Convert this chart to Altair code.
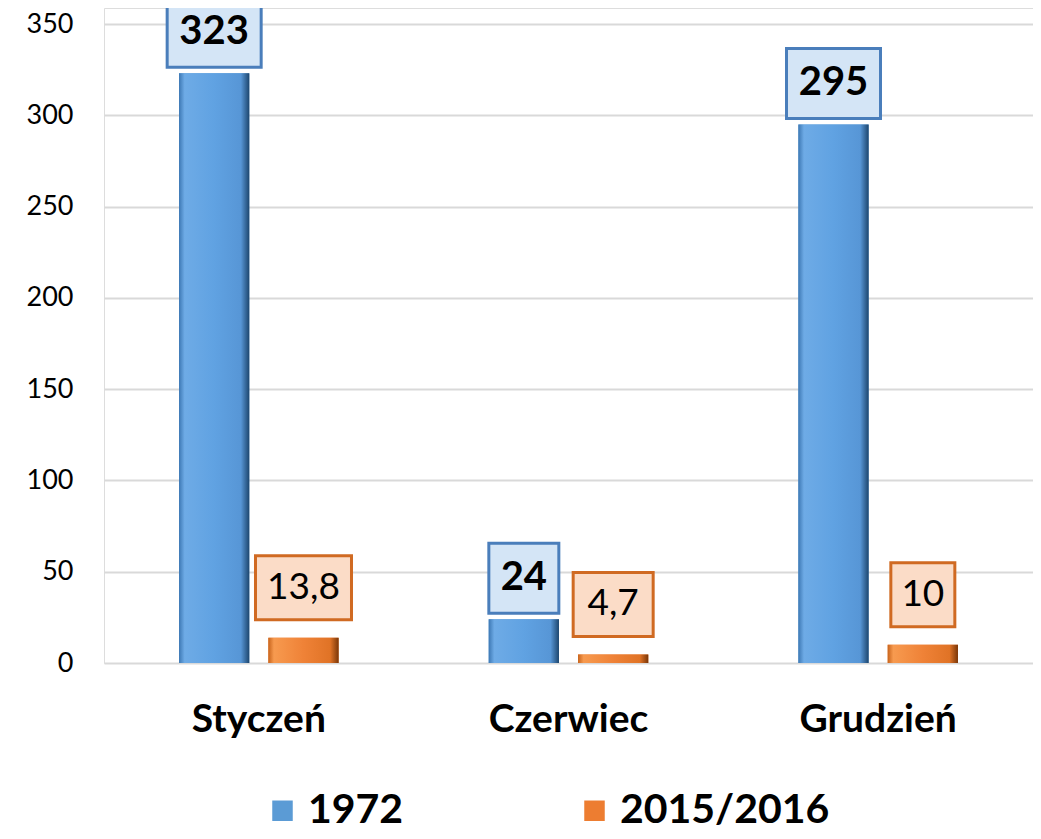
import altair as alt
import pandas as pd

categories = ["Styczeń", "Czerwiec", "Grudzień"]
series = ["1972", "2015/2016"]
values_1972 = [323, 24, 295]
values_2015 = [13.8, 4.7, 10]
labels_1972 = ["323", "24", "295"]
labels_2015 = ["13,8", "4,7", "10"]
y_ticks = [0, 50, 100, 150, 200, 250, 300, 350]

rows = []
for i, c in enumerate(categories):
    rows.append({"cat": c, "series": series[0], "value": values_1972[i], "label": labels_1972[i]})
    rows.append({"cat": c, "series": series[1], "value": values_2015[i], "label": labels_2015[i]})
df = pd.DataFrame(rows)

FONT = "Lato"

x = alt.X(
    "cat:N", sort=categories,
    scale=alt.Scale(paddingInner=0, paddingOuter=0),
    axis=alt.Axis(title=None, labelAngle=0, labelFont=FONT, labelFontWeight="bold",
                  labelFontSize=39, labelColor="black", labelPadding=37,
                  domain=False, ticks=False, tickSize=0, grid=False),
)
xo = alt.XOffset("series:N", sort=series,
                 scale=alt.Scale(domain=series, paddingInner=19 / 89, paddingOuter=0.84))
y = alt.Y(
    "value:Q",
    scale=alt.Scale(domain=[0, 358.8], nice=False, zero=True),
    axis=alt.Axis(values=y_ticks, title=None, domain=False, ticks=False, tickSize=0,
                  labelFont=FONT, labelFontSize=27, labelColor="black", labelPadding=31,
                  gridColor="#d9d9d9", gridWidth=2),
)

blue_grad = alt.Gradient(
    gradient="linear", x1=0, x2=1, y1=0, y2=0,
    stops=[
        alt.GradientStop(offset=0, color="#3d78b4"),
        alt.GradientStop(offset=0.08, color="#6eabe6"),
        alt.GradientStop(offset=0.5, color="#60a2e2"),
        alt.GradientStop(offset=0.88, color="#5796d6"),
        alt.GradientStop(offset=1, color="#1d466e"),
    ],
)
orange_grad = alt.Gradient(
    gradient="linear", x1=0, x2=1, y1=0, y2=0,
    stops=[
        alt.GradientStop(offset=0, color="#c8641c"),
        alt.GradientStop(offset=0.08, color="#f79a4f"),
        alt.GradientStop(offset=0.5, color="#ef8237"),
        alt.GradientStop(offset=0.88, color="#e07326"),
        alt.GradientStop(offset=1, color="#7a3608"),
    ],
)

base = alt.Chart(df)

bars = base.mark_bar().encode(
    x=x, xOffset=xo, y=y,
    color=alt.Color(
        "series:N", sort=series,
        scale=alt.Scale(domain=series, range=["#5b9bd5", "#ed7d31"]),
        legend=alt.Legend(
            title=None, orient="none", legendX=158, legendY=782, direction="horizontal",
            symbolType="square", symbolSize=420, symbolStrokeWidth=0,
            labelFont=FONT, labelFontWeight="bold", labelFontSize=41, labelColor="black",
            labelOffset=5, columnPadding=170, padding=0, labelLimit=400,
        ),
    ),
)

bars_blue = base.transform_filter(alt.datum.series == series[0]).mark_bar(fill=blue_grad).encode(
    x=x, xOffset=xo, y=y)
bars_orange = base.transform_filter(alt.datum.series == series[1]).mark_bar(fill=orange_grad).encode(
    x=x, xOffset=xo, y=y)

box_blue = base.transform_filter(alt.datum.series == series[0]).transform_calculate(
    bw="24*length(datum.label)+22"
).mark_bar(yOffset=-6, y2Offset=-76, fill="#d4e5f6", stroke="#4a7ebb", strokeWidth=3).encode(
    x=x, xOffset=xo, y=y, y2=alt.Y2("value"), size=alt.Size("bw:Q", scale=None, legend=None))

box_orange = base.transform_filter(alt.datum.series == series[1]).transform_calculate(
    bw="16*length(datum.label)+32"
).mark_bar(yOffset=-18, y2Offset=-82, fill="#fbdcc7", stroke="#d06a22", strokeWidth=3).encode(
    x=x, xOffset=xo, y=y, y2=alt.Y2("value"), size=alt.Size("bw:Q", scale=None, legend=None))

text_blue = base.transform_filter(alt.datum.series == series[0]).mark_text(
    font=FONT, fontWeight="bold", fontSize=40, baseline="middle", align="center",
    yOffset=-41, color="black").encode(x=x, xOffset=xo, y=y, text="label:N")

text_orange = base.transform_filter(alt.datum.series == series[1]).mark_text(
    font=FONT, fontWeight="normal", fontSize=37, baseline="middle", align="center",
    yOffset=-50, color="black").encode(x=x, xOffset=xo, y=y, text="label:N")

chart = alt.layer(
    bars, bars_blue, bars_orange, box_blue, box_orange, text_blue, text_orange
).properties(
    width=929, height=655,
    autosize=alt.AutoSizeParams(type="none"),
    padding={"left": 96, "top": 0, "right": 0, "bottom": 168},
).configure_view(stroke=None).configure(background="white")

chart.save("out.html", embed_options={"renderer": "svg", "actions": False})
